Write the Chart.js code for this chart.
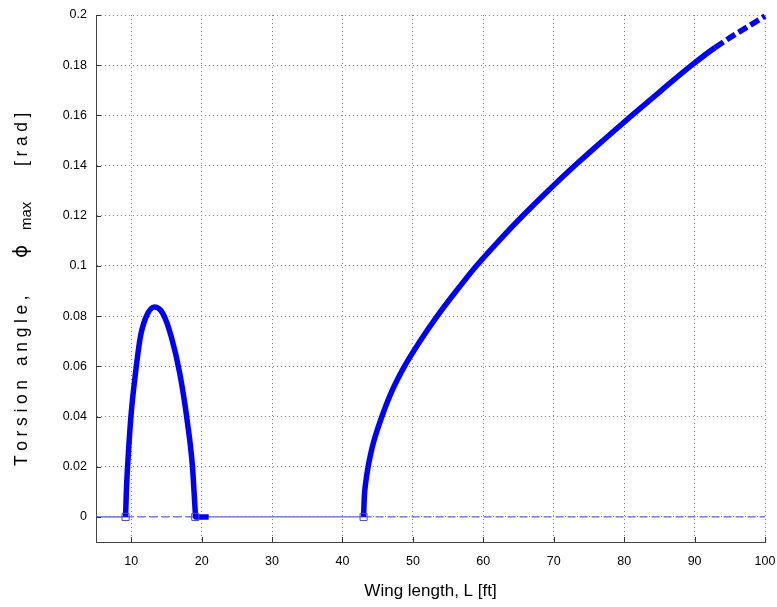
<!DOCTYPE html>
<html lang="en">
<head>
<meta charset="UTF-8">
<title>Torsion angle vs wing length</title>
<script src="https://cdn.jsdelivr.net/npm/chart.js@4"></script>
<style>
  html, body { margin: 0; padding: 0; background: #fff; }
  .wrap { width: 777px; height: 607px; position: relative; }
</style>
</head>
<body>
<div class="wrap"><canvas id="torsionChart"></canvas></div>
<script>
// axis ticks
const X_TICKS = [10, 20, 30, 40, 50, 60, 70, 80, 90, 100];
const Y_TICKS = [0, 0.02, 0.04, 0.06, 0.08, 0.1, 0.12, 0.14, 0.16, 0.18, 0.2];
const Y_TICK_LABELS = ['0', '0.02', '0.04', '0.06', '0.08', '0.1', '0.12', '0.14', '0.16', '0.18', '0.2'];

// first (short) branch, with the flat tail after it drops back to zero
const archL   = [9.2, 9.3, 9.6, 10.0, 10.6, 11.3, 12.1, 13.3, 14.5, 15.7, 16.9, 18.0, 18.7, 19.05, 19.15, 21.0];
const archPhi = [0, 0.0094, 0.0254, 0.0413, 0.0571, 0.0717, 0.0796, 0.0836, 0.0810, 0.0717, 0.0571, 0.0373, 0.0200, 0.0041, 0, 0];

// second branch, dashed past branchDashFrom
const branchL   = [43.0, 43.1, 43.3, 43.55, 44.0, 44.5, 45.6, 47.0, 48.8, 51.0, 53.45, 56.15, 59.0, 62.2, 65.6, 69.2, 73.0, 77.0, 81.1, 85.3, 89.6, 92.9, 100];
const branchPhi = [0, 0.0079, 0.0137, 0.0185, 0.025, 0.0306, 0.040, 0.050, 0.060, 0.070, 0.080, 0.090, 0.100, 0.110, 0.120, 0.130, 0.140, 0.150, 0.160, 0.170, 0.180, 0.187, 0.1996];
const branchDashFrom = 92.9;

// trivial solution phi = 0, segments alternate solid / dashed
const zeroL      = [5, 9.2, 19.1, 43.0, 100];
const zeroPhi    = [0, 0, 0, 0, 0];
const zeroDashed = [false, true, false, true];

// bifurcation points
const markL   = [9.2, 19.1, 43.0];
const markPhi = [0, 0, 0];

const pts = (xs, ys) => xs.map((x, i) => ({ x: x, y: ys[i] }));

const FONT = '"Liberation Sans", Arial, Helvetica, sans-serif';

// inward tick marks + axis titles
const decorations = {
  id: 'decorations',
  afterDraw(chart) {
    const ctx = chart.ctx;
    const xs = chart.scales.x, ys = chart.scales.y;
    const a = chart.chartArea;
    ctx.save();
    ctx.strokeStyle = '#333';
    ctx.lineWidth = 1;
    ctx.beginPath();
    X_TICKS.forEach(v => {
      const px = Math.round(xs.getPixelForValue(v)) + 0.5;
      ctx.moveTo(px, a.bottom);
      ctx.lineTo(px, a.bottom - 5);
    });
    Y_TICKS.forEach(v => {
      const py = Math.round(ys.getPixelForValue(v)) + 0.5;
      ctx.moveTo(a.left, py);
      ctx.lineTo(a.left + 5, py);
    });
    ctx.stroke();

    // x title
    ctx.fillStyle = '#000';
    ctx.font = '17px ' + FONT;
    ctx.textAlign = 'center';
    ctx.textBaseline = 'alphabetic';
    ctx.fillText('Wing length, L [ft]', (a.left + a.right) / 2, 596);

    // y title, letter spaced, with subscript
    ctx.translate(27, 466);
    ctx.rotate(-Math.PI / 2);
    ctx.textAlign = 'left';
    const spaced = (txt, start, gap) => {
      let x = start;
      for (const ch of txt) {
        ctx.fillText(ch, x, 0);
        x += ctx.measureText(ch).width + gap;
      }
    };
    ctx.font = '17.5px ' + FONT;
    spaced('Torsion', 0, 4.6);
    spaced('angle,', 100, 4.6);
    ctx.font = '20px "DejaVu Sans", ' + FONT;
    ctx.fillText('\u03d5', 208, 0);
    ctx.font = '15px ' + FONT;
    ctx.fillText('max', 236, 4);
    ctx.font = '17.5px ' + FONT;
    spaced('[rad]', 300, 4.6);
    ctx.restore();
  }
};

new Chart(document.getElementById('torsionChart'), {
  type: 'line',
  data: {
    datasets: [
      {
        data: pts(markL, markPhi),
        showLine: false,
        pointStyle: 'rect',
        pointRadius: 5,
        pointBorderWidth: 1,
        pointBorderColor: '#4a4ab8',
        pointBackgroundColor: 'rgba(0,0,0,0)',
        order: 0
      },
      {
        data: pts(archL, archPhi),
        borderColor: '#0000ff',
        borderWidth: 5.5,
        borderJoinStyle: 'round',
        cubicInterpolationMode: 'monotone',
        pointRadius: 0,
        clip: 8,
        order: 1
      },
      {
        data: pts(branchL, branchPhi),
        borderColor: '#0000ff',
        borderWidth: 5.5,
        borderJoinStyle: 'round',
        cubicInterpolationMode: 'monotone',
        pointRadius: 0,
        clip: 8,
        segment: {
          borderDash: c => (c.p0.parsed.x >= branchDashFrom ? [10, 4] : undefined)
        },
        order: 1
      },
      {
        data: pts(zeroL, zeroPhi),
        borderColor: '#6464dc',
        borderWidth: 1.4,
        pointRadius: 0,
        tension: 0,
        segment: {
          borderDash: c => (zeroDashed[c.p0DataIndex] ? [8, 4] : undefined)
        },
        order: 2
      }
    ]
  },
  options: {
    responsive: true,
    maintainAspectRatio: false,
    animation: false,
    events: [],
    layout: { padding: { left: 0, right: 12, top: 15, bottom: 0 } },
    plugins: {
      legend: { display: false },
      tooltip: { enabled: false },
      title: { display: false }
    },
    scales: {
      x: {
        type: 'linear',
        min: 5,
        max: 100,
        afterBuildTicks: s => { s.ticks = X_TICKS.map(v => ({ value: v })); },
        afterFit: s => { s.height = 65; s.paddingLeft = 0; s.paddingRight = 0; },
        grid: { color: '#8a8a8a', lineWidth: 1, drawTicks: false },
        border: { color: '#444', width: 1, dash: [1, 3] },
        ticks: {
          color: '#000',
          padding: 12,
          maxRotation: 0,
          autoSkip: false,
          font: { family: FONT, size: 12.5 },
          callback: v => String(v)
        }
      },
      y: {
        type: 'linear',
        min: -0.01,
        max: 0.2,
        afterBuildTicks: s => { s.ticks = Y_TICKS.map(v => ({ value: v })); },
        afterFit: s => { s.width = 96; s.paddingTop = 0; s.paddingBottom = 0; },
        grid: { color: '#8a8a8a', lineWidth: 1, drawTicks: false },
        border: { color: '#444', width: 1, dash: [1, 3] },
        ticks: {
          color: '#000',
          padding: 9,
          autoSkip: false,
          font: { family: FONT, size: 12.5 },
          callback: (v, i) => Y_TICK_LABELS[i]
        }
      }
    }
  },
  plugins: [decorations]
});
</script>
</body>
</html>
